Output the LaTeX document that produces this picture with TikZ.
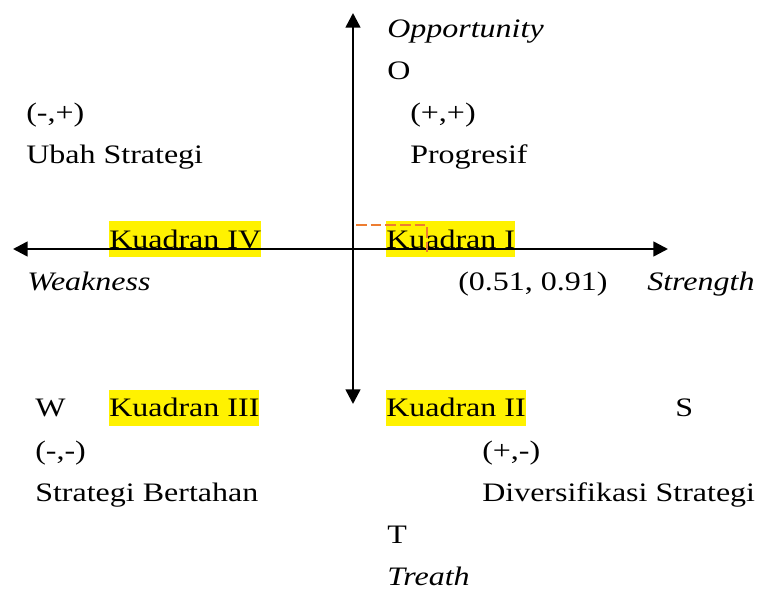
\documentclass[tikz,border=0pt]{standalone}
\usepackage{xcolor}
\usepackage{fontspec}
\setmainfont{Liberation Serif}[FakeStretch=1.2]
\usepackage{tikz}
\usetikzlibrary{arrows.meta, positioning, calc}
\definecolor{oranye}{HTML}{ED7D31}
\tikzstyle{teks} = [inner sep=0pt, anchor=base west, font=\fontsize{20pt}{24pt}\selectfont]
\tikzstyle{kuadran} = [teks, fill=yellow, text height=20.25pt, text depth=6.75pt]
\tikzstyle{sumbu} = [line width=1.9pt, {Triangle[length=11pt,width=11pt]}-{Triangle[length=11pt,width=11pt]}]
\tikzstyle{garisbantu} = [line width=2pt, draw=oranye, dash pattern=on 8pt off 3pt]

\begin{document}
\begin{tikzpicture}[x=0.75pt, y=-0.75pt]
    \useasboundingbox (0,0) rectangle (776,589);

    % Kuadran
    \node[kuadran] (k4) at (109,248) {Kuadran IV};
    \node[kuadran] (k1) at (386,248) {Kuadran I};
    \node[kuadran] (k3) at (109,416.8) {Kuadran III};
    \node[kuadran] (k2) at (386,416.8) {Kuadran II};

    % Opportunity
    \node[teks] (opp) at (387,37) {\textit{Opportunity}};
    \node[teks, below=31.65pt of opp.base west, anchor=base west] (o) {O};
    \node[teks] (pp) at (410,121.4) {(+,+)};
    \node[teks, below=31.65pt of pp.base west, anchor=base west] (progresif) {Progresif};
    \node[teks] (mp) at (26,121.4) {(-,+)};
    \node[teks, below=31.65pt of mp.base west, anchor=base west] (ubah) {Ubah Strategi};

    % Weakness / Strength
    \node[teks] (weak) at (27,290.2) {\textit{Weakness}};
    \node[teks] (nilai) at (458,290.2) {(0.51, 0.91)};
    \node[teks] (strength) at (647,290.2) {\textit{Strength}};

    % Treath
    \node[teks] (w) at (35,416.8) {W};
    \node[teks] (s) at (675,416.8) {S};
    \node[teks] (mm) at (35,459) {(-,-)};
    \node[teks, below=31.65pt of mm.base west, anchor=base west] (bertahan) {Strategi Bertahan};
    \node[teks] (pm) at (482,459) {(+,-)};
    \node[teks, below=31.65pt of pm.base west, anchor=base west] (diversifikasi) {Diversifikasi Strategi};
    \node[teks] (t) at (387,543.4) {T};
    \node[teks, below=31.65pt of t.base west, anchor=base west] (treath) {\textit{Treath}};

    % Sumbu
    \coordinate (kiri) at (13,249);
    \coordinate (kanan) at (668,249);
    \coordinate (atas) at (353,13);
    \coordinate (bawah) at (353,404);
    \draw[sumbu] (kiri) -- (kanan);
    \draw[sumbu] (bawah) -- (atas);

    % Titik posisi
    \coordinate (titik) at (427,225);
    \coordinate (proyY) at (356,225);
    \coordinate (proyX) at (427,252);
    \draw[garisbantu] (proyY) -- (titik) -- (proyX);

\end{tikzpicture}
\end{document}
